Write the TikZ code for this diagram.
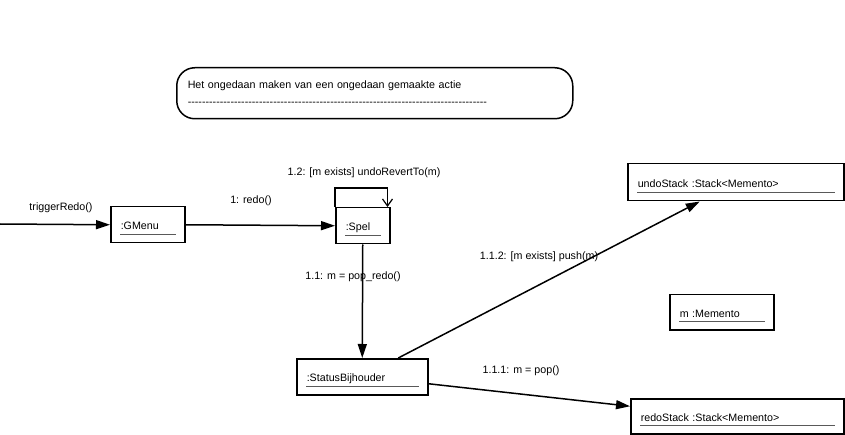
\documentclass[tikz,border=0pt]{standalone}
\usepackage{fontspec}
\setmainfont{Liberation Sans}
\usetikzlibrary{shapes,arrows.meta}

\newcommand{\dashrow}{\foreach \i in {1,...,84}{-\kern0pt}}

\begin{document}
\begin{tikzpicture}[x=1pt, y=-1pt, font=\fontsize{10.7}{17}\selectfont]
    % Define block styles
    \tikzstyle{object} = [draw, line width=1.5pt, anchor=north west, align=left,
        inner xsep=10pt, inner ysep=0pt, text height=10pt, text depth=0pt]
    \tikzstyle{note} = [draw, line width=1.5pt, rounded corners=18pt, anchor=north west,
        align=left, inner xsep=11pt, inner ysep=0pt]
    \tikzstyle{uline} = [draw, gray!70!black, line width=0.8pt]
    \tikzstyle{line} = [draw, line width=1.5pt, -{Triangle[length=14pt,width=9pt]}]
    \tikzstyle{selfloop} = [draw, line width=1.2pt, -{Straight Barb[length=7pt,width=10pt]}]
    \tikzstyle{msg} = [inner sep=0pt]

    \useasboundingbox (0,0) rectangle (845,435);

    % Note
    \node [note, minimum width=396pt, minimum height=51pt, text width=374pt] (note) at (176,67)
        {Het ongedaan maken van een ongedaan gemaakte actie\\\dashrow};

    % Objects
    \node [object, minimum width=74pt, minimum height=36pt, text width=54pt] (gmenu) at (110,206) {:GMenu};
    \node [object, minimum width=54pt, minimum height=36pt, text width=34pt] (spel) at (335,207) {:Spel};
    \node [object, minimum width=131pt, minimum height=36pt, text width=111pt] (status) at (296,358) {:StatusBijhouder};
    \node [object, minimum width=216pt, minimum height=37pt, text width=196pt] (undo) at (627,163) {undoStack :Stack<Memento>};
    \node [object, minimum width=104pt, minimum height=35pt, text width=84pt] (memento) at (669,294) {m :Memento};
    \node [object, minimum width=213pt, minimum height=35pt, text width=193pt] (redo) at (630,398) {redoStack :Stack<Memento>};

    \foreach \o in {gmenu, spel, status, undo, memento, redo}
        \path [uline] ([xshift=10pt,yshift=9pt]\o.south west) -- ([xshift=-10pt,yshift=9pt]\o.south east);

    % Messages
    \coordinate (start) at (0,224);
    \path [line] (start) -- (gmenu.west);
    \path [line] (gmenu.east) -- (spel.west);
    \path [selfloop] (spel.north west) -- ++(0,-19) -| ([xshift=-3pt]spel.north east);
    \path [line] (spel.south) -- (status.north);
    \path [line] ([xshift=36pt]status.north) -- ([xshift=-36pt]undo.south);
    \path [line] ([yshift=-7pt]status.east) -- ([yshift=10pt]redo.west);

    % Message labels
    \node [msg] (triggerLbl) at (61,208) {triggerRedo()};
    \node [msg] (redoLbl) at (251,201) {1: redo()};
    \node [msg] (revertLbl) at (364,173) {1.2: [m exists] undoRevertTo(m)};
    \node [msg] (popRedoLbl) at (353,277) {1.1: m = pop\_redo()};
    \node [msg] (pushLbl) at (539,257) {1.1.2: [m exists] push(m)};
    \node [msg] (popLbl) at (521,371) {1.1.1: m = pop()};

\end{tikzpicture}
\end{document}
